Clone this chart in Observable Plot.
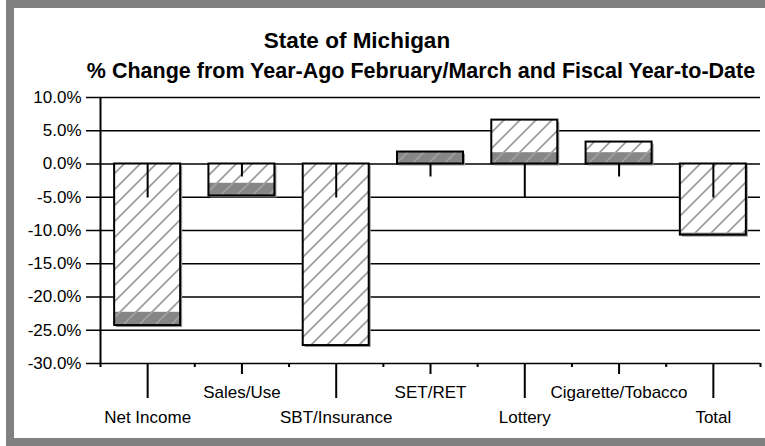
<!DOCTYPE html>
<html><head><meta charset="utf-8">
<script src="https://cdn.jsdelivr.net/npm/d3@7"></script>
<script src="https://cdn.jsdelivr.net/npm/@observablehq/plot@0.6"></script>
<style>
html,body{margin:0;padding:0;background:#fff;}
#wrap{position:relative;width:765px;height:446px;overflow:hidden;font-family:"Liberation Sans",Arial,sans-serif;}
#chart{position:absolute;left:0;top:0;}
#frame{position:absolute;left:6px;top:0;width:800px;height:430px;border:8px solid #808080;border-right:none;pointer-events:none;}
.t{position:absolute;font-weight:bold;white-space:nowrap;transform:translateX(-50%);color:#000;line-height:1;}
</style></head><body>
<div id="wrap">
  <div id="chart"></div>
  <div class="t" style="left:357px;top:30px;font-size:22.5px">State of Michigan</div>
  <div class="t" style="left:421px;top:61px;font-size:21.5px">% Change from Year-Ago February/March and Fiscal Year-to-Date</div>
  <div id="frame"></div>
</div>
<script>
const categories = ["Net Income", "Sales/Use", "SBT/Insurance", "SET/RET", "Lottery", "Cigarette/Tobacco", "Total"];
const hatchedValues = [-24.3, -4.8, -27.3, 1.8, 6.6, 3.3, -10.7];
const shadedFrom = [-22.3, -2.9, -27.3, 0, 0, 0, -10.4];
const shadedTo = [-24.3, -4.8, -27.3, 1.8, 1.7, 1.7, -10.7];
const yTicks = [10, 5, 0, -5, -10, -15, -20, -25, -30];

const rows = categories.map((c, i) => ({c, i, v: hatchedValues[i], s1: shadedFrom[i], s2: shadedTo[i]}));
const even = rows.filter(d => d.i % 2 === 0);
const odd = rows.filter(d => d.i % 2 === 1);
const half = 0.35;
const xDomain = [-0.5, categories.length - 0.5];
const bounds = d3.range(categories.length + 1).map(k => k - 0.5);
const yMin = d3.min(yTicks), yMax = d3.max(yTicks);

const bx1 = d => d.i - half, bx2 = d => d.i + half;

const chart = Plot.plot({
  width: 765, height: 446,
  marginTop: 97, marginBottom: 83, marginLeft: 100, marginRight: 5,
  x: {domain: xDomain, axis: null},
  y: {domain: [yMin, yMax], axis: null},
  style: {fontFamily: "'Liberation Sans', Arial, sans-serif", fontSize: "17px", background: "transparent", color: "#000", overflow: "visible"},
  marks: [
    Plot.ruleY(yTicks, {stroke: "#000", strokeWidth: 1.5}),
    Plot.axisY({ticks: yTicks, tickSize: 14, tickPadding: 5, tickFormat: d => d.toFixed(1) + "%", strokeWidth: 1.5, fontSize: 17}),
    Plot.ruleX([xDomain[0]], {stroke: "#000", strokeWidth: 2}),
    Plot.rect(rows, {x1: bx1, x2: bx2, y1: 0, y2: "v", fill: "#9a9a9a", dx: 2, dy: 2}),
    Plot.rect(rows, {x1: bx1, x2: bx2, y1: 0, y2: "v", fill: "url(#hatchLight)"}),
    Plot.rect(rows.filter(d => d.s1 !== d.s2), {x1: bx1, x2: bx2, y1: "s1", y2: "s2", fill: "url(#hatchDark)"}),
    Plot.rect(rows, {x1: bx1, x2: bx2, y1: 0, y2: "v", fill: "none", stroke: "#000", strokeWidth: 2}),
    Plot.ruleX(even, {x: "i", y1: 0, y2: 0, insetBottom: -34, stroke: "#000", strokeWidth: 2}),
    Plot.ruleX(odd, {x: "i", y1: 0, y2: 0, insetBottom: -13, stroke: "#000", strokeWidth: 2}),
    Plot.ruleX(bounds, {y1: yMin, y2: yMin, insetBottom: -4, stroke: "#000", strokeWidth: 2}),
    Plot.ruleX(even, {x: "i", y1: yMin, y2: yMin, insetBottom: -35, stroke: "#000", strokeWidth: 2}),
    Plot.ruleX(odd, {x: "i", y1: yMin, y2: yMin, insetBottom: -11, stroke: "#000", strokeWidth: 2}),
    Plot.text(odd, {x: "i", y: yMin, text: "c", dy: 29, fontSize: 17, lineAnchor: "middle"}),
    Plot.text(even, {x: "i", y: yMin, text: "c", dy: 54, fontSize: 17, lineAnchor: "middle"})
  ]
});

d3.select(chart).insert("defs", ":first-child").html(
  '<pattern id="hatchLight" patternUnits="userSpaceOnUse" width="16" height="16">' +
  '<rect width="16" height="16" fill="#fff"/>' +
  '<path d="M-4,4 L4,-4 M0,16 L16,0 M12,20 L20,12" stroke="#9a9a9a" stroke-width="1.6"/></pattern>' +
  '<pattern id="hatchDark" patternUnits="userSpaceOnUse" width="16" height="16">' +
  '<rect width="16" height="16" fill="#868686"/>' +
  '<path d="M-4,4 L4,-4 M0,16 L16,0 M12,20 L20,12" stroke="#a2a2a2" stroke-width="1.6"/></pattern>'
);
document.getElementById("chart").appendChild(chart);
</script>
</body></html>
